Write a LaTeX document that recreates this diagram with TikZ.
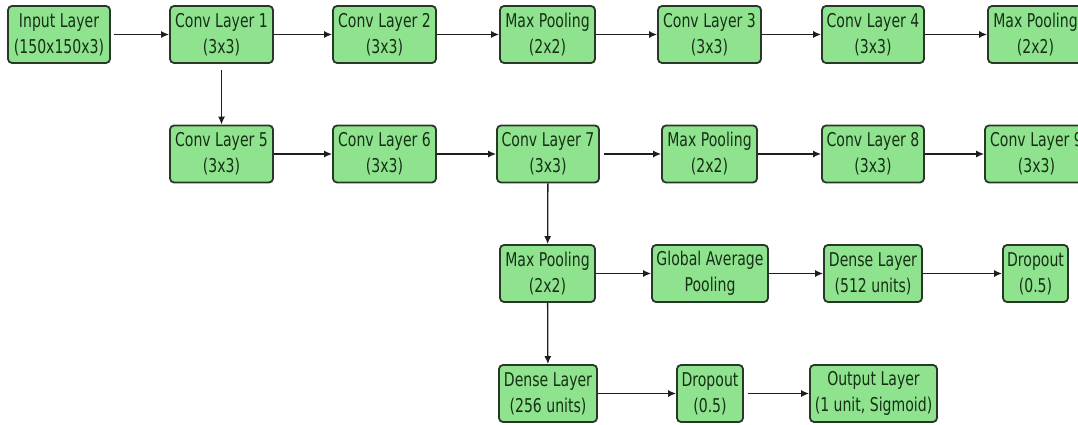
\documentclass[tikz,border=0pt]{standalone}
\usepackage{fontspec}
\newfontfamily\boxfont[FakeStretch=0.74]{DejaVu Sans}
\usetikzlibrary{arrows.meta}
\definecolor{boxfill}{RGB}{143,227,143}
\definecolor{boxedge}{RGB}{40,55,40}
\definecolor{boxtext}{RGB}{22,48,22}
\definecolor{arrowcol}{RGB}{30,30,30}
\tikzset{
  layer/.style={draw=boxedge, line width=1.8pt, fill=boxfill, rounded corners=4pt,
    minimum height=57pt, inner sep=0pt, align=center, text=boxtext,
    font=\boxfont\fontsize{19}{26}\selectfont},
  flow/.style={draw=arrowcol, line width=1.3pt, -{Latex[length=8pt,width=7pt]}},
}
\begin{document}
\begin{tikzpicture}[x=1pt,y=-1pt]
\clip (0,0) rectangle (1078,425);
\fill[white] (0,0) rectangle (1078,425);
% row 1
\node[layer, minimum width=102pt] (in)  at (59,34.5)    {Input Layer\\(150x150x3)};
\node[layer, minimum width=103pt] (c1)  at (221.5,34.5) {Conv Layer 1\\(3x3)};
\node[layer, minimum width=103pt] (c2)  at (384.5,34.5) {Conv Layer 2\\(3x3)};
\node[layer, minimum width=95pt]  (mp1) at (547.5,34.5) {Max Pooling\\(2x2)};
\node[layer, minimum width=103pt] (c3)  at (709.5,34.5) {Conv Layer 3\\(3x3)};
\node[layer, minimum width=102pt] (c4)  at (873,34.5)   {Conv Layer 4\\(3x3)};
\node[layer, minimum width=95pt]  (mp2) at (1035.5,34.5){Max Pooling\\(2x2)};
% row 2
\node[layer, minimum width=103pt] (c5)  at (221.5,154)  {Conv Layer 5\\(3x3)};
\node[layer, minimum width=103pt] (c6)  at (384.5,154)  {Conv Layer 6\\(3x3)};
\node[layer, minimum width=102pt] (c7)  at (548,154)    {Conv Layer 7\\(3x3)};
\node[layer, minimum width=95pt]  (mp3) at (709.5,154)  {Max Pooling\\(2x2)};
\node[layer, minimum width=102pt] (c8)  at (873,154)    {Conv Layer 8\\(3x3)};
\node[layer, minimum width=103pt] (c9)  at (1036.5,154) {Conv Layer 9\\(3x3)};
% row 3
\node[layer, minimum width=95pt]  (mp4) at (547.5,273.5){Max Pooling\\(2x2)};
\node[layer, minimum width=116pt] (gap) at (710,273.5)  {Global Average\\Pooling};
\node[layer, minimum width=98pt]  (d512) at (873,273.5) {Dense Layer\\(512 units)};
\node[layer, minimum width=65pt]  (do1) at (1035.5,273.5){Dropout\\(0.5)};
% row 4
\node[layer, minimum width=98pt]  (d256) at (548,393.5) {Dense Layer\\(256 units)};
\node[layer, minimum width=66pt]  (do2) at (710,393.5)  {Dropout\\(0.5)};
\node[layer, minimum width=127pt] (out) at (873.5,393.5){Output Layer\\(1 unit, Sigmoid)};
% connectors
\draw[flow, shorten <=3pt] (in) -- (c1);
\draw[flow] (c1) -- (c2);
\draw[flow] (c2) -- (mp1);
\draw[flow] (mp1) -- (c3);
\draw[flow] (c3) -- (c4);
\draw[flow] (c4) -- (mp2);
\draw[flow, shorten <=6pt] (c1) -- (c5);
\draw[flow] (c5) -- (c6);
\draw[flow] (c6) -- (c7);
\draw[flow, shorten <=4pt] (c7) -- (mp3);
\draw[flow] (mp3) -- (c8);
\draw[flow] (c8) -- (c9);
\draw[flow] (c7) -- (mp4);
\draw[flow] (mp4) -- (gap);
\draw[flow] (gap) -- (d512);
\draw[flow] (d512) -- (do1);
\draw[flow] (mp4) -- (d256);
\draw[flow] (d256) -- (do2);
\draw[flow, shorten <=4pt] (do2) -- (out);
\end{tikzpicture}
\end{document}
